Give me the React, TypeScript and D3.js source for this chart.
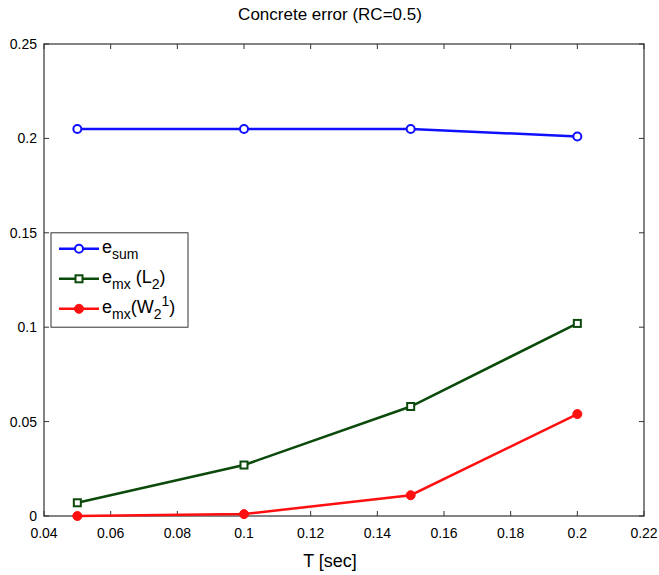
import * as d3 from 'd3';

const tValues = [0.05, 0.1, 0.15, 0.2];
const eSum = [0.205, 0.205, 0.205, 0.201];
const eMxL2 = [0.007, 0.027, 0.058, 0.102];
const eMxW = [0, 0.001, 0.011, 0.054];
const xTicks = [0.04, 0.06, 0.08, 0.1, 0.12, 0.14, 0.16, 0.18, 0.2, 0.22];
const yTicks = [0, 0.05, 0.1, 0.15, 0.2, 0.25];

const W = 659;
const H = 575;
const margin = { top: 44, right: 15, bottom: 59, left: 44 };
const font = '"Liberation Sans", Arial, sans-serif';

const series = [
  { name: 'sum', values: eSum, color: '#1010ff', marker: 'circle' },
  { name: 'L2', values: eMxL2, color: '#0b4a0b', marker: 'square' },
  { name: 'W', values: eMxW, color: '#ff1010', marker: 'dot' },
];

const fmt = (d: number) => String(+d.toFixed(2));

const Marker = ({ type, x, y, color }: { type: string; x: number; y: number; color: string }) => {
  if (type === 'circle') return <circle cx={x} cy={y} r={4} fill="white" stroke={color} strokeWidth={2} />;
  if (type === 'square') return <rect x={x - 3.5} y={y - 3.5} width={7} height={7} fill="white" stroke={color} strokeWidth={2} />;
  return <circle cx={x} cy={y} r={4.5} fill={color} stroke={color} strokeWidth={1} />;
};

export default function App() {
  const x = d3.scaleLinear().domain([0.04, 0.22]).range([margin.left, W - margin.right]);
  const y = d3.scaleLinear().domain([0, 0.25]).range([H - margin.bottom, margin.top]);
  const line = d3.line<number>().x((_, i) => x(tValues[i])).y(d => y(d));
  const x0 = x.range()[0], x1 = x.range()[1];
  const y0 = y.range()[0], y1 = y.range()[1];
  const tl = 5;

  // legend
  const lx = 51, ly = y(0.15), lw = 137, lh = y(0.1) - y(0.15);

  return (
    <svg width={W} height={H} style={{ position: 'absolute', left: 0, top: 0, fontFamily: font }}>
      <rect width={W} height={H} fill="white" />
      <text x={330} y={20} textAnchor="middle" fontSize={17}>Concrete error (RC=0.5)</text>
      <rect x={x0} y={y1} width={x1 - x0} height={y0 - y1} fill="none" stroke="#333" strokeWidth={1.2} />
      {xTicks.map(t => (
        <g key={'x' + t}>
          <line x1={x(t)} x2={x(t)} y1={y0} y2={y0 - tl} stroke="#333" />
          <line x1={x(t)} x2={x(t)} y1={y1} y2={y1 + tl} stroke="#333" />
          <text x={x(t)} y={y0 + 22} textAnchor="middle" fontSize={14}>{fmt(t)}</text>
        </g>
      ))}
      {yTicks.map(t => (
        <g key={'y' + t}>
          <line x1={x0} x2={x0 + tl} y1={y(t)} y2={y(t)} stroke="#333" />
          <line x1={x1} x2={x1 - tl} y1={y(t)} y2={y(t)} stroke="#333" />
          <text x={x0 - 7} y={y(t) + 5} textAnchor="end" fontSize={14}>{fmt(t)}</text>
        </g>
      ))}
      <text x={330} y={567} textAnchor="middle" fontSize={18}>T [sec]</text>
      {series.map(s => (
        <g key={s.name}>
          <path d={line(s.values) || ''} fill="none" stroke={s.color} strokeWidth={2.5} />
          {s.values.map((v, i) => (
            <Marker key={i} type={s.marker} x={x(tValues[i])} y={y(v)} color={s.color} />
          ))}
        </g>
      ))}
      <rect x={lx} y={ly} width={lw} height={lh} fill="white" stroke="#333" strokeWidth={1} />
      {series.map((s, i) => {
        const ry = ly + 16 + i * 30;
        return (
          <g key={'l' + s.name}>
            <line x1={59} x2={99} y1={ry} y2={ry} stroke={s.color} strokeWidth={2.5} />
            <Marker type={s.marker} x={79} y={ry} color={s.color} />
            <text x={102} y={ry + 4} fontSize={18}>
              {i === 0 && (<>e<tspan fontSize={14} dy={6}>sum</tspan></>)}
              {i === 1 && (<>e<tspan fontSize={14} dy={6}>mx</tspan><tspan dy={-6}> (L</tspan><tspan fontSize={14} dy={6}>2</tspan><tspan dy={-6}>)</tspan></>)}
              {i === 2 && (<>e<tspan fontSize={14} dy={6}>mx</tspan><tspan dy={-6}>(W</tspan><tspan fontSize={14} dy={6}>2</tspan><tspan fontSize={14} dy={-13}>1</tspan><tspan dy={7}>)</tspan></>)}
            </text>
          </g>
        );
      })}
    </svg>
  );
}
